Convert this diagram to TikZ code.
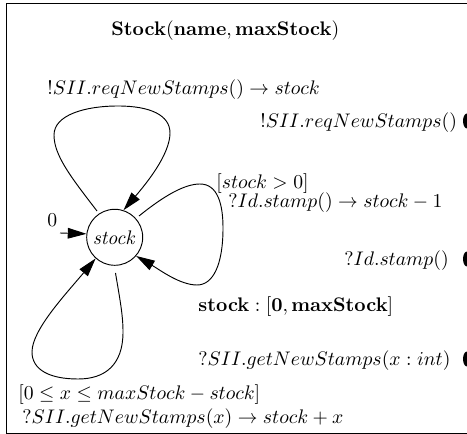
\documentclass[tikz,border=0pt]{standalone}
\usepackage{amsmath}
\usetikzlibrary{arrows.meta}
\tikzset{
  lab/.style={inner sep=0pt,anchor=west,scale=1.475},
  loopline/.style={line width=0.7pt},
  loopend/.style={-{Triangle[length=14pt,width=8pt]},shorten >=0pt},
  statec/.style={circle,draw,line width=0.7pt,minimum size=42pt,inner sep=0pt}
}
\begin{document}
\begin{tikzpicture}[x=0.75pt,y=-0.75pt]
\useasboundingbox (0,0) rectangle (467,434);
\draw[line width=0.7pt] (470,3) -- (6,3) -- (6,433) -- (470,433);
\node[lab] (title) at (111,31) {$\mathbf{Stock(name,maxStock)}$};
\node[statec] (s) at (114.7,237.3) {};
\node[lab,anchor=center] (stxt) at (114.7,238) {$\mathit{stock}$};
\node[lab] (zero) at (47,220) {$0$};
\coordinate (init) at (60,233);
\draw[loopline,loopend] (init) -- (s.173);
\node[lab] (l1) at (47,90) {$!SII.reqNewStamps() \rightarrow stock$};
\node[lab] (l2) at (260,123) {$!SII.reqNewStamps()$};
\node[lab] (l3) at (216,184) {$[stock > 0]$};
\node[lab] (l4) at (228,203) {$?Id.stamp() \rightarrow stock - 1$};
\node[lab] (l5) at (344,261) {$?Id.stamp()$};
\node[lab] (l6) at (198,307) {$\mathbf{stock} : [\mathbf{0}, \mathbf{maxStock}]$};
\node[lab] (l7) at (198,361) {$?SII.getNewStamps(x : int)$};
\node[lab] (l8) at (18,395) {$[0 \leq x \leq maxStock - stock]$};
\node[lab] (l9) at (22,419) {$?SII.getNewStamps(x) \rightarrow stock + x$};
\fill (467,121) ellipse (4 and 7.5);
\fill (467,259) ellipse (4 and 7.5);
\fill (467,359) ellipse (4 and 7.5);
\coordinate (a1) at (97,211);
\coordinate (b1) at (139,216);
\coordinate (c1) at (115.5,273);
\draw[loopline,loopend] (a1) .. controls (70,176) and (54,155) .. (54,135) .. controls (54,115) and (85,106) .. (118,106) .. controls (150,106) and (170,115) .. (170,133) .. controls (170,155) and (145,185) .. (s.72);
\draw[loopline,loopend] (b1) .. controls (165,195) and (185,184) .. (200,184) .. controls (218,184) and (223,205) .. (223,228) .. controls (223,265) and (213,285) .. (197,285) .. controls (180,285) and (160,270) .. (s.-41);
\draw[loopline,loopend] (c1) .. controls (120,300) and (123,315) .. (123,332) .. controls (123,365) and (105,379) .. (78,379) .. controls (50,379) and (32,370) .. (32,352) .. controls (32,330) and (65,295) .. (s.-132);
\end{tikzpicture}
\end{document}
